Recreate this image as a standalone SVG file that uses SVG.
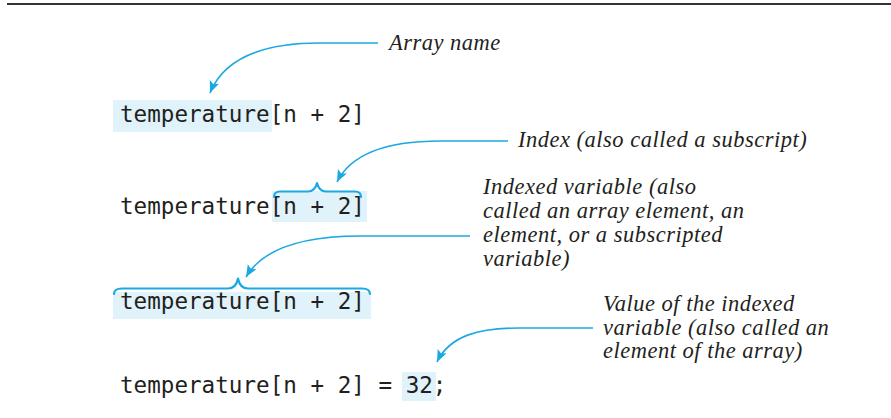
<svg xmlns="http://www.w3.org/2000/svg" width="891" height="418" viewBox="0 0 891 418">
<defs>
<style>
.code{font-family:"DejaVu Sans Mono","Liberation Mono",monospace;font-size:22.6px;fill:#231f20}
.lbl{font-family:"Liberation Serif","Times New Roman",serif;font-style:italic;font-size:22.5px;letter-spacing:0.5px;fill:#231f20}
.hl{fill:#e0f2fa}
.conn{fill:none;stroke:#1ba9e1;stroke-width:1.6}
.brace{fill:none;stroke:#1ba9e1;stroke-width:2.2;stroke-linecap:round;stroke-linejoin:round}
</style>
<marker id="ah" markerUnits="userSpaceOnUse" markerWidth="14" markerHeight="12" refX="12" refY="5" orient="auto">
<path d="M0,0 L12,5 L0,10 L2.5,5 z" fill="#1ba9e1"/>
</marker>
</defs>
<rect width="891" height="418" fill="#ffffff"/>
<line x1="7" y1="4" x2="891" y2="4" stroke="#333333" stroke-width="2.2"/>

<g id="row1">
<rect class="hl" x="113" y="100" width="159" height="32"/>
<text class="code" x="120" y="122">temperature[n + 2]</text>
</g>
<g id="label1">
<text class="lbl" x="389" y="50">Array name</text>
</g>

<g id="row2">
<rect class="hl" x="272" y="191" width="95" height="31"/>
<text class="code" x="120" y="214">temperature[n + 2]</text>
<path class="brace" d="M274,197 Q274,191.5 280,191.5 L308,191.5 Q315,191.5 317,183 Q319,191.5 326,191.5 L355,191.5 Q361,191.5 361,197"/>
</g>
<g id="label2">
<text class="lbl" x="518" y="147">Index (also called a subscript)</text>
</g>

<g id="row3">
<rect class="hl" x="113" y="292" width="258" height="27"/>
<text class="code" x="120" y="309">temperature[n + 2]</text>
<path class="brace" d="M114,294 Q114,288.5 122,288.5 L228,288.5 Q236,288.5 238,278.5 Q240,288.5 248,288.5 L362,288.5 Q370,288.5 370,294"/>
</g>
<g id="label3">
<text class="lbl" x="483" y="194">Indexed variable (also</text>
<text class="lbl" x="483" y="218">called an array element, an</text>
<text class="lbl" x="483" y="242">element, or a subscripted</text>
<text class="lbl" x="483" y="266">variable)</text>
</g>

<g id="row4">
<rect class="hl" x="402" y="372" width="34" height="29"/>
<text class="code" x="120" y="393">temperature[n + 2] = 32;</text>
</g>
<g id="label4">
<text class="lbl" x="603" y="311">Value of the indexed</text>
<text class="lbl" x="603" y="335">variable (also called an</text>
<text class="lbl" x="603" y="358">element of the array)</text>
</g>

<g id="connectors">
<path class="conn" marker-end="url(#ah)" d="M378,43 L320,43 C262,43 224,58 210,93"/>
<path class="conn" marker-end="url(#ah)" d="M508,141 L440,141 C390,141 352,152 337,182"/>
<path class="conn" marker-end="url(#ah)" d="M470,236 L360,236 C300,236 262,250 246,277"/>
<path class="conn" marker-end="url(#ah)" d="M593,328 L520,328 C480,328 450,335 437,362"/>
</g>
</svg>
